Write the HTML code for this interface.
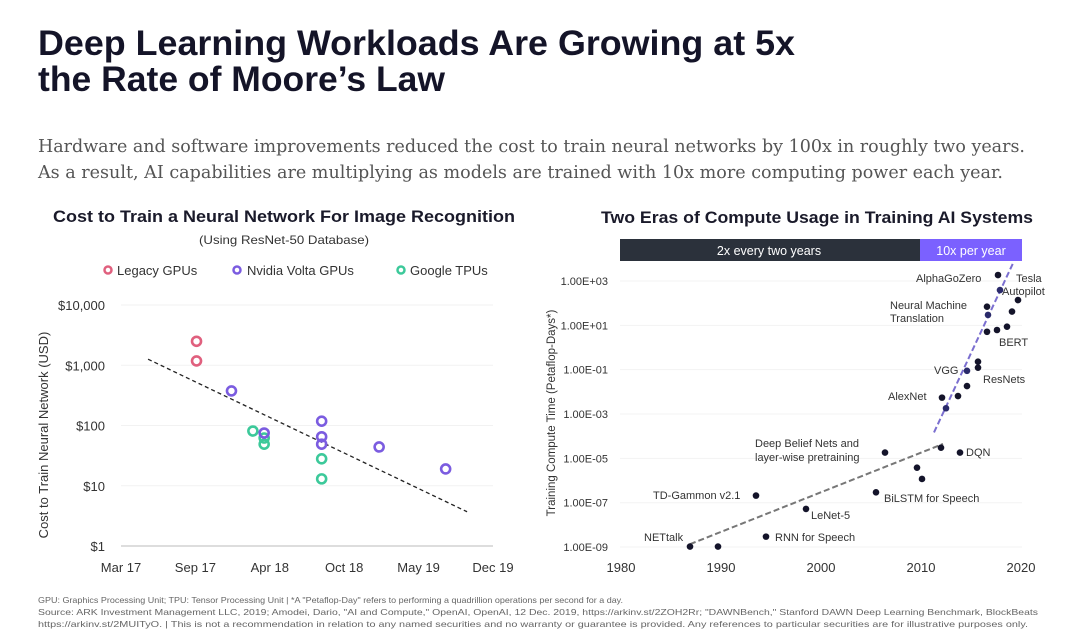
<!DOCTYPE html>
<html><head><meta charset="utf-8"><style>
body{margin:0;background:#fff;}
svg{display:block;font-family:"Liberation Sans",sans-serif;}
</style></head><body>
<svg id="root" width="1080" height="639" viewBox="0 0 1080 639" xmlns="http://www.w3.org/2000/svg">
<text x="38" y="55" font-size="35" font-weight="bold" fill="#141428" textLength="757" lengthAdjust="spacingAndGlyphs">Deep Learning Workloads Are Growing at 5x</text>
<text x="38" y="91" font-size="35" font-weight="bold" fill="#141428" textLength="407" lengthAdjust="spacingAndGlyphs">the Rate of Moore’s Law</text>
<text x="38" y="152" font-size="18" fill="#555" font-family="DejaVu Serif,serif" textLength="987" lengthAdjust="spacingAndGlyphs">Hardware and software improvements reduced the cost to train neural networks by 100x in roughly two years.</text>
<text x="38" y="178" font-size="18" fill="#555" font-family="DejaVu Serif,serif" textLength="965" lengthAdjust="spacingAndGlyphs">As a result, AI capabilities are multiplying as models are trained with 10x more computing power each year.</text>
<text x="53" y="222" font-size="17" font-weight="bold" fill="#1a1a2a" textLength="462" lengthAdjust="spacingAndGlyphs">Cost to Train a Neural Network For Image Recognition</text>
<text x="199" y="244" font-size="12" fill="#333" textLength="170" lengthAdjust="spacingAndGlyphs">(Using ResNet-50 Database)</text>
<text x="601" y="223" font-size="17" font-weight="bold" fill="#1a1a2a" textLength="432" lengthAdjust="spacingAndGlyphs">Two Eras of Compute Usage in Training AI Systems</text>
<g>
<circle cx="108" cy="270" r="3.5" fill="none" stroke="#e0607e" stroke-width="2.5"/>
<text x="117" y="275" font-size="13" fill="#333">Legacy GPUs</text>
<circle cx="237" cy="270" r="3.5" fill="none" stroke="#7b5ce0" stroke-width="2.5"/>
<text x="247" y="275" font-size="13" fill="#333">Nvidia Volta GPUs</text>
<circle cx="401" cy="270" r="3.5" fill="none" stroke="#3cc99a" stroke-width="2.5"/>
<text x="410" y="275" font-size="13" fill="#333">Google TPUs</text>
</g>
<g id="left"></g>
<g id="right"></g>
<text x="38" y="603" font-size="8.5" fill="#666" textLength="585" lengthAdjust="spacingAndGlyphs">GPU: Graphics Processing Unit; TPU: Tensor Processing Unit   |   *A "Petaflop-Day" refers to performing a quadrillion operations per second for a day.</text>
<text x="38" y="615" font-size="8.5" fill="#666" textLength="1000" lengthAdjust="spacingAndGlyphs">Source: ARK Investment Management LLC, 2019; Amodei, Dario, "AI and Compute," OpenAI, OpenAI, 12 Dec. 2019, https://arkinv.st/2ZOH2Rr; "DAWNBench," Stanford DAWN Deep Learning Benchmark, BlockBeats</text>
<text x="38" y="627" font-size="8.5" fill="#666" textLength="990" lengthAdjust="spacingAndGlyphs">https://arkinv.st/2MUITyO.  |  This is not a recommendation in relation to any named securities and no warranty or guarantee is provided. Any references to particular securities are for illustrative purposes only.</text>
</svg>
<script>
const NS="http://www.w3.org/2000/svg";
// Left chart data (x = months since Mar 2017, y = USD)
const leftXTicks=["Mar 17","Sep 17","Apr 18","Oct 18","May 19","Dec 19"];
const leftYTicks=["$1","$10","$100","$1,000","$10,000"];
const legacyX=[6.7,6.7];
const legacyY=[2500,1180];
const voltaX=[9.8,12.7,17.8,17.8,17.8,22.9,28.8];
const voltaY=[375,75,118,65,49,44,19];
const tpuX=[11.7,12.7,12.7,17.8,17.8];
const tpuY=[81,62,49,28,13];
const trendX=[2.4,30.7];
const trendY=[1260,3.7];
// Right chart data (x = year, y = log10 petaflop-days)
const rightXTicks=[1980,1990,2000,2010,2020];
const rightYTicks=[3,1,-1,-3,-5,-7,-9];
const rightYLabels=["1.00E+03","1.00E+01","1.00E-01","1.00E-03","1.00E-05","1.00E-07","1.00E-09"];
const modelYears=[2017.7,2017.9,2019.7,2019.1,2016.6,2016.7,2016.6,2017.6,2018.6,2015.7,2015.7,2014.6,2014.6,2013.7,2012.1,2012.5,2012.0,2013.9,2006.4,2009.6,2010.1,2005.5,1993.5,1998.5,1994.5,1986.9,1989.7];
const modelLogs=[3.27,2.59,2.14,1.62,1.84,1.47,0.71,0.79,0.94,-0.64,-0.91,-1.05,-1.74,-2.19,-2.26,-2.74,-4.52,-4.74,-4.74,-5.42,-5.93,-6.53,-6.68,-7.28,-8.53,-8.98,-8.98];
const modelOnTrend=[0,1,0,0,0,1,0,0,0,0,0,1,0,0,0,1,0,0,0,0,0,0,0,0,0,0,0];
const eraOneX=[1986.9,2012.2];
const eraOneY=[-8.87,-4.35];
const eraTwoX=[2011.3,2019.2];
const eraTwoY=[-3.83,3.8];

function mk(tag,attrs,parent,txt){const e=document.createElementNS(NS,tag);for(const k in attrs)e.setAttribute(k,attrs[k]);if(txt!==undefined)e.textContent=txt;parent.appendChild(e);return e;}

// Left axes
const L=document.getElementById('left');
const lx=m=>121+m*(372/33);
const ly=v=>546-Math.log10(v)*60.25;
leftYTicks.forEach((t,i)=>{
  const y=ly(Math.pow(10,i));
  const g=mk('line',{x1:121,x2:493,y1:y,y2:y,stroke:i===0?'#bbb':'#f2f2f2','stroke-width':1},L);
  
  
  const tx=mk('text',{x:105,y:y+5,'font-size':13,'text-anchor':'end',fill:'#333'},L,t);
  
  
});
leftXTicks.forEach((t,i)=>{
  const tx=mk('text',{x:lx(i*6.6),y:572,'font-size':13,'text-anchor':'middle',fill:'#333'},L,t);
  
  
});
const lyt=mk('text',{x:0,y:0,'font-size':13,'text-anchor':'middle',fill:'#333',transform:'translate(48,435) rotate(-90)'},L,'Cost to Train Neural Network (USD)');


const tl=mk('line',{x1:lx(trendX[0]),y1:ly(trendY[0]),x2:lx(trendX[1]),y2:ly(trendY[1]),stroke:'#222','stroke-width':1.3,'stroke-dasharray':'4,3'},L);


function series(xs,ys,color,name){xs.forEach((x,i)=>{const c=mk('circle',{cx:lx(x),cy:ly(ys[i]),r:4.5,fill:'none',stroke:color,'stroke-width':2.6},L);
  
  });}
series(legacyX,legacyY,'#e0607e','legacy-gpu-point');
series(tpuX,tpuY,'#3cc99a','google-tpu-point');
series(voltaX,voltaY,'#7b5ce0','volta-gpu-point');

// Right chart
const R=document.getElementById('right');
const rx=y=>621+(y-1980)*10;
const ry=l=>281+(3-l)*22.17;
const b1=mk('rect',{x:620,y:239,width:300,height:22,fill:'#2b313b'},R);


const b2=mk('rect',{x:920,y:239,width:102,height:22,fill:'#7b61ff'},R);


const bt1=mk('text',{x:769,y:255,'font-size':12.5,'text-anchor':'middle',fill:'#fff'},R,'2x every two years');


const bt2=mk('text',{x:971,y:255,'font-size':12.5,'text-anchor':'middle',fill:'#fff'},R,'10x per year');


rightYTicks.forEach((t,i)=>{
  const y=ry(t);
  const g=mk('line',{x1:620,x2:1022,y1:y,y2:y,stroke:'#f3f3f3','stroke-width':1},R);
  
  
  const tx=mk('text',{x:608,y:y+4,'font-size':11,'text-anchor':'end',fill:'#333'},R,rightYLabels[i]);
  
  
});
rightXTicks.forEach(t=>{
  const tx=mk('text',{x:rx(t),y:572,'font-size':13,'text-anchor':'middle',fill:'#333'},R,String(t));
  
  
});
const ryt=mk('text',{x:0,y:0,'font-size':11.5,'text-anchor':'middle',fill:'#333',transform:'translate(555,413) rotate(-90)'},R,'Training Compute Time (Petaflop-Days*)');


const e1=mk('line',{x1:rx(eraOneX[0]),y1:ry(eraOneY[0]),x2:rx(eraOneX[1]),y2:ry(eraOneY[1]),stroke:'#777','stroke-width':2,'stroke-dasharray':'6,3'},R);


const e2=mk('line',{x1:rx(eraTwoX[0]),y1:ry(eraTwoY[0]),x2:rx(eraTwoX[1]),y2:ry(eraTwoY[1]),stroke:'#7b6fd0','stroke-width':2,'stroke-dasharray':'6,3'},R);


modelYears.forEach((yr,i)=>{
  const c=mk('circle',{cx:rx(yr),cy:ry(modelLogs[i]),r:3.3,fill:modelOnTrend[i]?'#2a2a6a':'#14142a'},R);
  
  
});
const labels=[["AlphaGoZero",916,282],["Tesla",1016,282],["Autopilot",1002,295],["Neural Machine",890,309],["Translation",890,322],["BERT",999,346],["VGG",934,374],["ResNets",983,383],["AlexNet",888,400],["Deep Belief Nets and",755,447],["layer-wise pretraining",755,461],["DQN",966,456],["BiLSTM for Speech",884,502],["TD-Gammon v2.1",653,499],["LeNet-5",811,519],["RNN for Speech",775,541],["NETtalk",644,541]];
labels.forEach(l=>{
  const t=mk('text',{x:l[1],y:l[2],'font-size':11,fill:'#333'},R,l[0]);
  
  
});
</script>
</body></html>
